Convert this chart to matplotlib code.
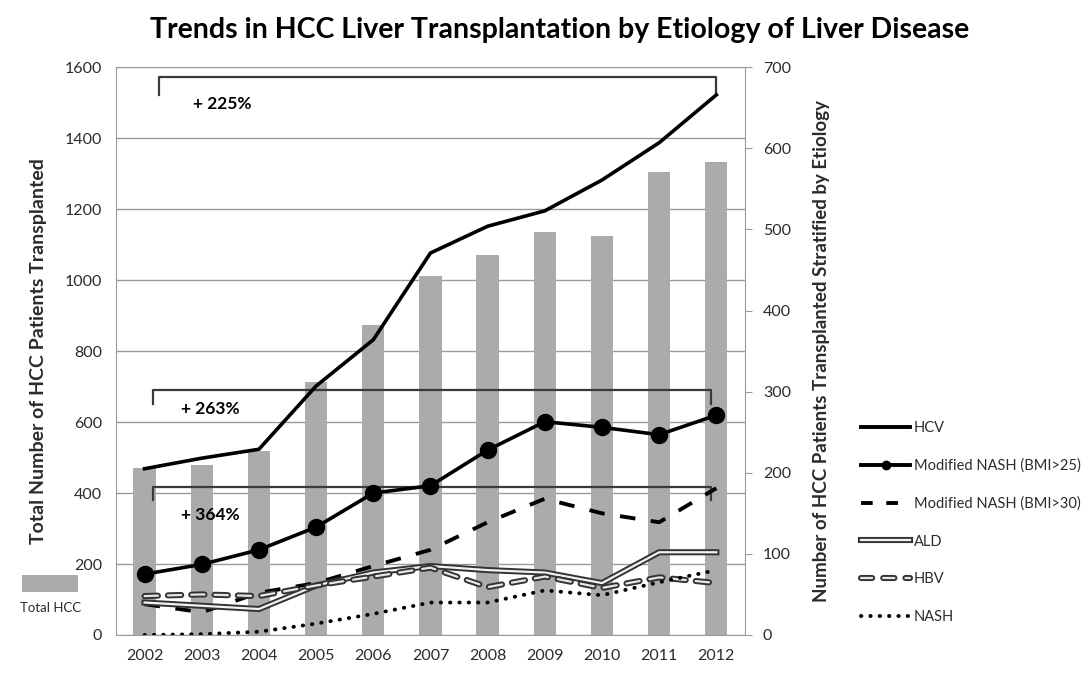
"""
Trends in HCC liver transplantation by etiology
"""

import numpy as np
import matplotlib
matplotlib.use("Agg")
import matplotlib.pyplot as plt
import matplotlib.patheffects as pe
from matplotlib.lines import Line2D
from matplotlib.patches import Rectangle

plt.rcParams['font.family'] = ['Lato', 'DejaVu Sans']

years = [2002, 2003, 2004, 2005, 2006, 2007, 2008, 2009, 2010, 2011, 2012]

# left axis: total HCC transplanted
total_hcc = [472, 480, 518, 713, 873, 1011, 1070, 1135, 1125, 1305, 1332]

# right axis: stratified by etiology
hcv = [205, 218, 229, 307, 364, 471, 504, 523, 561, 607, 666]
nash_bmi25 = [75, 87, 105, 133, 175, 184, 228, 263, 256, 247, 271]
nash_bmi30 = [38, 28, 52, 64, 85, 105, 139, 168, 150, 139, 181]
ald = [40, 36, 32, 61, 77, 85, 80, 77, 64, 102, 102]
hbv = [48, 50, 48, 61, 72, 83, 59, 72, 58, 71, 64]
nash = [0, 1, 4, 14, 26, 40, 40, 55, 49, 65, 80]

series_labels = ["HCV", "Modified NASH (BMI>25)", "Modified NASH (BMI>30)", "ALD", "HBV", "NASH"]

# percent change brackets (left axis units)
brackets = [
    # x0, x1, y, y_tick_left, y_tick_right, label, text_x, text_y
    (2002.26, 2012.0, 1572, 1522, 1525, "+ 225%", 2002.85, 1497),
    (2002.14, 2011.9, 690, 651, 651, "+ 263%", 2002.63, 637),
    (2002.14, 2011.9, 417, 380, 380, "+ 364%", 2002.63, 338),
]

txt_col = '#2b2b2b'
grid_col = '#9a9a9a'

fig = plt.figure(figsize=(10.91, 6.73), dpi=100)
ax = fig.add_axes([0.1063, 0.0565, 0.5765, 0.8435])
ax2 = ax.twinx()

x = np.array(years)

# bars
ax.bar(x, total_hcc, width=0.39, color='#ababab', zorder=2)
ax.set_xlim(2001.5, 2012.5)
ax.set_ylim(0, 1600)
ax.set_yticks(range(0, 1601, 200))
ax.yaxis.grid(True, color=grid_col, linewidth=1.0, zorder=0)
ax.set_axisbelow(True)
ax.set_xticks(years)
ax.tick_params(axis='both', length=0, labelsize=11.5, colors=txt_col, pad=10)
ax.tick_params(axis='x', pad=10)
for s in ['left', 'bottom', 'top']:
    ax.spines[s].set_color(grid_col)
ax.spines['right'].set_visible(False)

# lines on the right axis
ax2.set_ylim(0, 700)
ax2.set_yticks(range(0, 701, 100))
ax2.tick_params(axis='y', length=5, direction='out', color=grid_col, labelsize=11.5,
                labelcolor=txt_col, pad=8)
for s in ['left', 'bottom', 'top']:
    ax2.spines[s].set_visible(False)
ax2.spines['right'].set_color(grid_col)

ax2.plot(x, hcv, color='black', linewidth=2.6, zorder=5)
ax2.plot(x, nash_bmi25, color='black', linewidth=2.6, marker='o', markersize=11.5, zorder=5)
ax2.plot(x, nash_bmi30, color='black', linewidth=2.8, dashes=(4, 4), zorder=4)
double_fx = [pe.Stroke(linewidth=4.4, foreground='#333333'), pe.Normal()]
ax2.plot(x, ald, color='#f2f2f2', linewidth=1.6, path_effects=double_fx, zorder=4)
ax2.plot(x, hbv, color='#e6e6e6', linewidth=1.6, dashes=(6, 4.5), dash_capstyle='round',
         path_effects=double_fx, zorder=4)
ax2.plot(x, nash, color='black', linewidth=2.8, linestyle=(0, (0.1, 2.3)),
         dash_capstyle='round', zorder=4)

# brackets
for x0, x1, y, yl, yr, lab, tx, ty in brackets:
    ax.plot([x0, x0, x1, x1], [yl, y, y, yr], color='#3a3a3a', linewidth=1.6, zorder=3)
    ax.text(tx, ty, lab, fontsize=12.5, fontweight='bold', color='black',
            ha='left', va='center', zorder=6)

# legend for etiologies
handles = [
    Line2D([], [], color='black', linewidth=2.8),
    Line2D([], [], color='black', linewidth=2.8, marker='o', markersize=6),
    Line2D([], [], color='black', linewidth=2.8, dashes=(3, 3.5)),
    Line2D([], [], color='#f2f2f2', linewidth=1.6, path_effects=double_fx),
    Line2D([], [], color='#e6e6e6', linewidth=1.6, dashes=(5, 5), dash_capstyle='round',
           path_effects=double_fx),
    Line2D([], [], color='black', linewidth=2.8, linestyle=(0, (0.1, 2.3)), dash_capstyle='round'),
]
leg = fig.legend(handles, series_labels, loc='upper left', bbox_to_anchor=(0.777, 0.394),
                 frameon=False, fontsize=10.5, handlelength=3.4, handletextpad=0.25,
                 labelspacing=1.62, labelcolor=txt_col)

# total HCC legend key
fig.patches.append(Rectangle((22 / 1091, 1 - 592 / 673), 56 / 1091, 17 / 673,
                             transform=fig.transFigure, facecolor='#ababab',
                             edgecolor='none'))
fig.text(51 / 1091, 1 - 608 / 673, "Total HCC", fontsize=9.5, color=txt_col,
         ha='center', va='center')

ax.set_ylabel("Total Number of HCC Patients Transplanted", fontsize=14,
              fontweight='bold', color=txt_col)
ax.yaxis.set_label_coords(-0.11, 0.5)
ax2.set_ylabel("Number of HCC Patients Transplanted Stratified by Etiology",
               fontsize=13.5, fontweight='bold', color=txt_col)
ax2.yaxis.set_label_coords(1.108, 0.5)

fig.text(0.513, 1 - 30 / 673, "Trends in HCC Liver Transplantation by Etiology of Liver Disease",
         fontsize=20.5, fontweight='bold', color='black', ha='center', va='center')

fig.savefig("out.png", dpi=100)
